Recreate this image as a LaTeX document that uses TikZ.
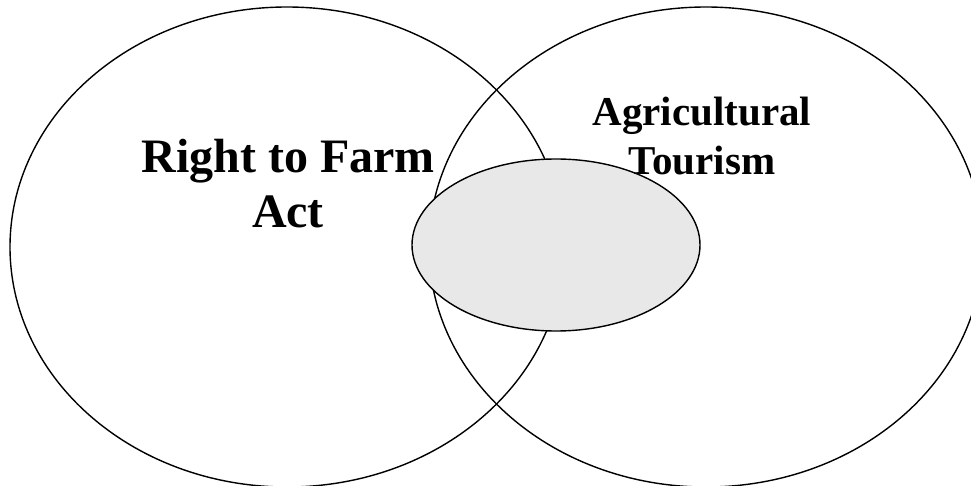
\documentclass[tikz,border=0pt]{standalone}
\usepackage{fontspec}
\setmainfont{Liberation Serif}
\definecolor{overlapgray}{RGB}{232,232,232}

\tikzset{
  setline/.style={line width=1.4pt},
  setlabel/.style={align=center, font=\bfseries, inner sep=0pt},
}

\begin{document}
\begin{tikzpicture}[x=1pt, y=-1pt]
  % page frame, 971 x 486
  \useasboundingbox (0,0) rectangle (971,486);
  \clip (0,0) rectangle (971,486);

  % the two sets
  \draw[setline] (287,247) ellipse [x radius=277, y radius=240];
  \draw[setline] (706,247) ellipse [x radius=277, y radius=240];

  % shaded overlap
  \filldraw[setline, fill=overlapgray] (556,245) ellipse [x radius=144, y radius=86];

  % set labels
  \node[setlabel, font=\bfseries\fontsize{48}{55}\selectfont] (farmact) at (288,184) {Right to Farm\\Act};
  \node[setlabel, font=\bfseries\fontsize{41}{49}\selectfont] (agritour) at (702,136) {Agricultural\\Tourism};
\end{tikzpicture}
\end{document}
